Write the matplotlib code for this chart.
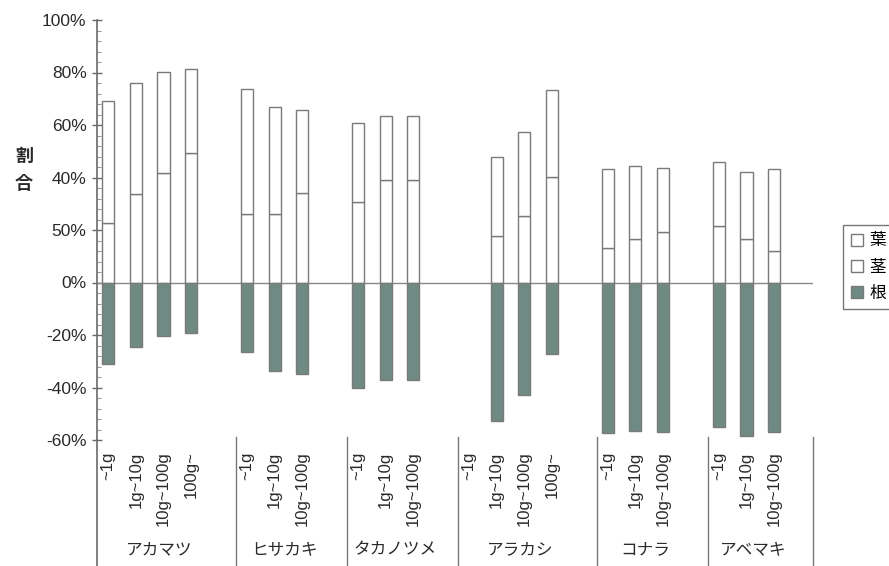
import matplotlib
matplotlib.use("Agg")
import matplotlib.pyplot as plt
import matplotlib.transforms as mtransforms
from matplotlib.patches import Patch
import numpy as np

plt.rcParams['font.family'] = ['Liberation Sans', 'Noto Sans CJK JP', 'DejaVu Sans']

# ---- data ----
group_names = ['アカマツ', 'ヒサカキ', 'タカノツメ', 'アラカシ', 'コナラ', 'アベマキ']
class_labels = [
    ['~1g', '1g~10g', '10g~100g', '100g~'],
    ['~1g', '1g~10g', '10g~100g'],
    ['~1g', '1g~10g', '10g~100g'],
    ['~1g', '1g~10g', '10g~100g', '100g~'],
    ['~1g', '1g~10g', '10g~100g'],
    ['~1g', '1g~10g', '10g~100g'],
]
stem_pct = [
    [22.5, 33.6, 41.6, 49.2],
    [26.0, 26.0, 34.2],
    [30.8, 39.2, 39.0],
    [None, 17.8, 25.3, 40.3],
    [13.1, 16.6, 19.1],
    [21.6, 16.6, 12.1],
]
leaf_pct = [
    [46.6, 42.4, 38.7, 32.1],
    [47.7, 40.7, 31.4],
    [29.9, 24.4, 24.6],
    [None, 30.0, 32.2, 33.1],
    [30.2, 27.6, 24.6],
    [24.2, 25.5, 31.0],
]
root_pct = [
    [-30.9, -24.7, -20.5, -19.2],
    [-26.6, -33.6, -34.8],
    [-40.0, -37.1, -37.1],
    [None, -52.6, -42.9, -27.1],
    [-57.4, -56.5, -56.8],
    [-54.9, -58.3, -56.9],
]
legend_labels = ['葉', '茎', '根']
ytick_values = [-60, -40, -20, 0, 20, 40, 60, 80, 100]
ytick_labels = ['-60%', '-40%', '-20%', '0%', '50%', '40%', '60%', '80%', '100%']
ylabel_text = '割\n合'

# ---- style ----
root_color = '#6f8a82'
edge_color = '#7a7a7a'
axis_color = '#6a6a6a'
text_color = '#2a2a2a'
bar_w = 0.44

fig = plt.figure(figsize=(8.89, 5.66), dpi=100)
ax = fig.add_axes([97 / 889, 1 - 440 / 566, (813 - 97) / 889, 420 / 566])

# positions
positions = []
group_bounds = []
start = 0
for g, labels in enumerate(class_labels):
    pos = [start + i for i in range(len(labels))]
    positions.append(pos)
    group_bounds.append(start - 0.4)
    start = start + len(labels) + 1
xmax = positions[-1][-1] + 1.4
group_bounds.append(xmax)

for g in range(len(group_names)):
    for i, x in enumerate(positions[g]):
        s = stem_pct[g][i]
        l = leaf_pct[g][i]
        r = root_pct[g][i]
        if s is None:
            continue
        ax.bar(x, s, bottom=0, width=bar_w, color='white', edgecolor=edge_color, linewidth=1.0, zorder=3)
        ax.bar(x, l, bottom=s, width=bar_w, color='white', edgecolor=edge_color, linewidth=1.0, zorder=3)
        ax.bar(x, r, bottom=0, width=bar_w, color=root_color, edgecolor=edge_color, linewidth=1.0, zorder=3)

ax.axhline(0, color='#888888', linewidth=1.0, zorder=2)

ax.set_xlim(-0.4, xmax)
ax.set_ylim(-60, 100)
for side in ['top', 'right', 'bottom']:
    ax.spines[side].set_visible(False)
ax.spines['left'].set_color(axis_color)
ax.spines['left'].set_linewidth(1.2)
ax.set_xticks([])
ax.set_yticks(ytick_values)
ax.set_yticklabels(ytick_labels, fontsize=12.5, color=text_color)
ax.set_yticks(np.arange(-60, 101, 4), minor=True)
ax.tick_params(axis='y', which='major', direction='inout', length=7, width=1, color=axis_color, pad=4)
ax.tick_params(axis='y', which='minor', direction='in', length=3, width=0.8, color='#999999')

trans = mtransforms.blended_transform_factory(ax.transData, ax.transAxes)
# separators and left extension of the category axis
ax.plot([-0.4, -0.4], [0, -0.31], transform=trans, color=axis_color, linewidth=1.2, clip_on=False)
for b in group_bounds[1:]:
    ax.plot([b, b], [0.007, -0.31], transform=trans, color='#777777', linewidth=1.0, clip_on=False)

# class labels
for g in range(len(group_names)):
    for i, x in enumerate(positions[g]):
        ax.text(x, -0.027, class_labels[g][i], transform=trans, rotation=90,
                ha='center', va='top', fontsize=12, color=text_color)
    mid = (group_bounds[g] + group_bounds[g + 1]) / 2 - 0.25
    ax.text(mid, -0.262, group_names[g], transform=trans, ha='center', va='center',
            fontsize=12, color=text_color, family=['Noto Sans CJK JP'])

fig.text(24 / 889, 1 - 170 / 566, ylabel_text, ha='center', va='center', fontsize=13,
         fontweight='bold', color=text_color, linespacing=1.5, family=['Noto Sans CJK JP'])

handles = [Patch(facecolor='white', edgecolor=edge_color, linewidth=1.0),
           Patch(facecolor='white', edgecolor=edge_color, linewidth=1.0),
           Patch(facecolor=root_color, edgecolor=edge_color, linewidth=1.0)]
leg = fig.legend(handles, legend_labels, loc='upper left',
                 bbox_to_anchor=(843 / 889, 1 - 225 / 566), fontsize=12,
                 handlelength=0.75, handleheight=0.75, handletextpad=0.4,
                 labelspacing=0.55, borderpad=0.45, borderaxespad=0,
                 fancybox=False, framealpha=1, edgecolor='#777777',
                 prop={'family': ['Noto Sans CJK JP'], 'size': 12})
leg.get_frame().set_linewidth(1.0)

fig.savefig('out.png', dpi=100)
